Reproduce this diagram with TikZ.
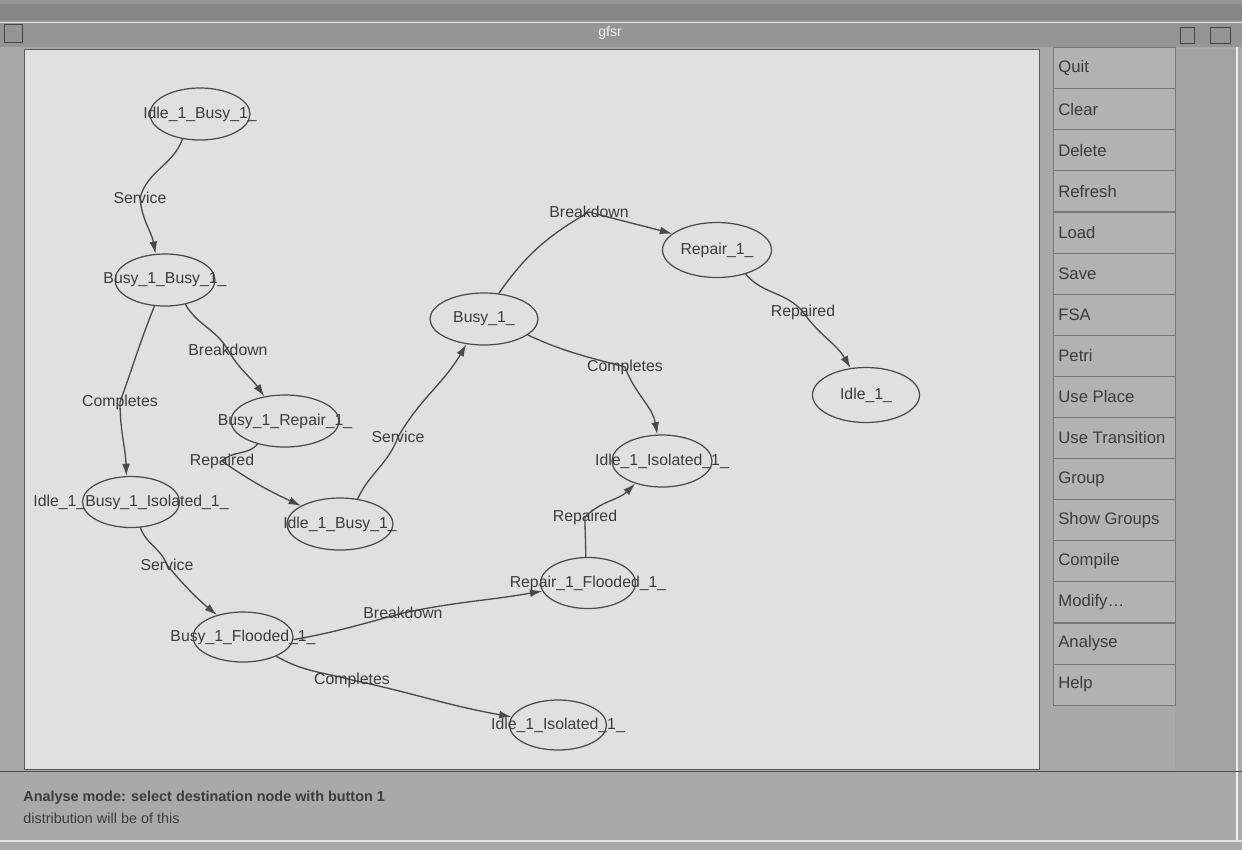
\documentclass[tikz,border=0pt]{standalone}
\usepackage{fontspec}
\setmainfont{Liberation Sans}
\usetikzlibrary{shapes.geometric,arrows.meta,backgrounds}

\definecolor{framegrey}{HTML}{A9A9A9}
\definecolor{titlegrey}{HTML}{959595}
\definecolor{titledark}{HTML}{868686}
\definecolor{canvasgrey}{HTML}{E0E0E0}
\definecolor{panelgrey}{HTML}{ABABAB}
\definecolor{stripgrey}{HTML}{A3A3A3}
\definecolor{inkgrey}{HTML}{4A4A4A}
\definecolor{textgrey}{HTML}{3C3C3C}

\tikzset{
  stnode/.style n args={2}{shape=ellipse, draw=inkgrey, line width=0.7pt,
    inner sep=0pt, minimum width={#1*0.02cm}, minimum height={#2*0.02cm},
    font=\fontsize{9}{10}\selectfont, text=textgrey},
  edgelabel/.style={inner sep=0pt, font=\fontsize{9}{10}\selectfont, text=textgrey},
  edge/.style={draw=inkgrey, line width=0.75pt,
    -{Latex[length=7pt,width=4.5pt]}},
  button/.style={draw=titlegrey!80!black, line width=0.4pt, fill=panelgrey!92!white,
    minimum width={122*0.02cm}, minimum height={41*0.02cm}, inner sep=0pt},
  buttontext/.style={anchor=west, inner sep=0pt, font=\fontsize{9.5}{11}\selectfont, text=textgrey},
  statustext/.style={anchor=west, inner sep=0pt, font=\bfseries\fontsize{8.2}{10}\selectfont, text=textgrey}
}

\begin{document}
\begin{tikzpicture}[x=0.02cm, y=-0.02cm]
  \useasboundingbox (0,0) rectangle (1242,850);

  % states
  \node[stnode={100}{52}] (n1)  at (200,114) {\makebox[0pt]{Idle\_1\_Busy\_1\_}};
  \node[stnode={100}{52}] (n2)  at (165,280) {\makebox[0pt]{Busy\_1\_Busy\_1\_}};
  \node[stnode={108}{52}] (n3)  at (285,421) {\makebox[0pt]{Busy\_1\_Repair\_1\_}};
  \node[stnode={97}{51}]  (n4)  at (131,502) {\makebox[0pt]{Idle\_1\_Busy\_1\_Isolated\_1\_}};
  \node[stnode={106}{52}] (n5)  at (340,524) {\makebox[0pt]{Idle\_1\_Busy\_1\_}};
  \node[stnode={108}{52}] (n6)  at (484,319) {\makebox[0pt]{Busy\_1\_}};
  \node[stnode={109}{55}] (n7)  at (717,250) {\makebox[0pt]{Repair\_1\_}};
  \node[stnode={107}{55}] (n8)  at (866,395) {\makebox[0pt]{Idle\_1\_}};
  \node[stnode={100}{52}] (n9)  at (662,461) {\makebox[0pt]{Idle\_1\_Isolated\_1\_}};
  \node[stnode={95}{51}]  (n10) at (588,583) {\makebox[0pt]{Repair\_1\_Flooded\_1\_}};
  \node[stnode={100}{50}] (n11) at (243,637) {\makebox[0pt]{Busy\_1\_Flooded\_1\_}};
  \node[stnode={97}{50}]  (n12) at (558,725) {\makebox[0pt]{Idle\_1\_Isolated\_1\_}};

  % transition labels
  \node[edgelabel] (l1)  at (140,198) {Service};
  \node[edgelabel] (l2)  at (228,350) {Breakdown};
  \node[edgelabel] (l3)  at (120,402) {Completes};
  \node[edgelabel] (l4)  at (222,461) {Repaired};
  \node[edgelabel] (l5)  at (398,437) {Service};
  \node[edgelabel] (l6)  at (589,212) {Breakdown};
  \node[edgelabel] (l7)  at (803,312) {Repaired};
  \node[edgelabel] (l8)  at (625,367) {Completes};
  \node[edgelabel] (l9)  at (585,517) {Repaired};
  \node[edgelabel] (l10) at (167,565) {Service};
  \node[edgelabel] (l11) at (403,613) {Breakdown};
  \node[edgelabel] (l12) at (352,680) {Completes};

  % button column
  \foreach \lbl [count=\i from 0] in {Quit,Clear,Delete,Refresh,Load,Save,FSA,Petri,
      Use Place,Use Transition,Group,Show Groups,Compile,{Modify\ldots},Analyse,Help} {
    \node[button] (b\i) at (1114,{68+41.1*\i}) {};
    \node[buttontext] (bt\i) at (1058,{68+41.1*\i}) {\lbl};
  }

  % title and status lines
  \node[inner sep=0pt, font=\fontsize{8}{9}\selectfont, text=white!90!gray] (title) at (610,33) {gfsr};
  \node[statustext] (status1) at (23,798) {Analyse mode: select destination node with button 1};
  \node[statustext, font=\fontsize{8.2}{10}\selectfont] (status2) at (23,818) {distribution will be of this};

  \begin{scope}[on background layer]
    % window frame and title bar
    \fill[framegrey] (0,0) rectangle (1242,850);
    \fill[titlegrey] (0,0) rectangle (1242,47);
    \fill[titledark] (0,4) rectangle (1242,20);
    \draw[white!80!gray, line width=0.5pt] (0,22) -- (1242,22);
    \draw[gray!55!black, line width=0.4pt] (4,24) rectangle (22,42);
    \draw[gray!55!black, line width=0.4pt] (1180,27) rectangle (1194,43);
    \draw[gray!55!black, line width=0.4pt] (1210,27) rectangle (1230,43);

    % drawing canvas
    \fill[canvasgrey] (24,49) rectangle (1039,769);
    \draw[gray!70!black, line width=0.4pt] (24,49) rectangle (1039,769);

    % button column surround and status area
    \fill[stripgrey] (1175,49) rectangle (1237,770);
    \draw[white!85!gray, line width=0.8pt] (1237,47) -- (1237,840);
    \draw[gray!60!black, line width=0.4pt] (0,771) -- (1242,771);
    \draw[white!80!gray, line width=0.6pt] (0,841) -- (1242,841);

    % transitions, each routed through its label
    \path[edge] (n1.235)  to[out=-110,in=75]  (l1.center)  to[out=-85,in=100]  (n2.110);
    \path[edge] (n2.-50)  to[out=-60,in=120]  (l2.center)  to[out=-60,in=125]  (n3.130);
    \path[edge] (n2.-112) to[out=-112,in=70]  (l3.center)  to[out=-90,in=92]   (n4.100);
    \path[edge] (n3.-140) to[out=-130,in=45]  (l4.center)  to[out=-35,in=155]  (n5.155);
    \path[edge] (n5.55)   to[out=65,in=-110]  (l5.center)  to[out=60,in=-120]  (n6.-125);
    \path[edge] (n6.60)   to[out=55,in=-150]  (l6.center)  to[out=-15,in=165]  (n7.160);
    \path[edge] (n7.-40)  to[out=-50,in=130]  (l7.center)  to[out=-55,in=120]  (n8.120);
    \path[edge] (n6.-20)  to[out=-25,in=165]  (l8.center)  to[out=-70,in=100]  (n9.100);
    \path[edge] (n10.95)  to[out=90,in=-90]   (l9.center)  to[out=45,in=-135] (n9.-140);
    \path[edge] (n4.-70)  to[out=-70,in=110]  (l10.center) to[out=-50,in=140]  (n11.140);
    \path[edge] (n11.-3)  to[out=10,in=195]   (l11.center) to[out=12,in=190]   (n10.190);
    \path[edge] (n11.-30) to[out=-30,in=165]  (l12.center) to[out=-12,in=170]  (n12.170);
  \end{scope}
\end{tikzpicture}
\end{document}
